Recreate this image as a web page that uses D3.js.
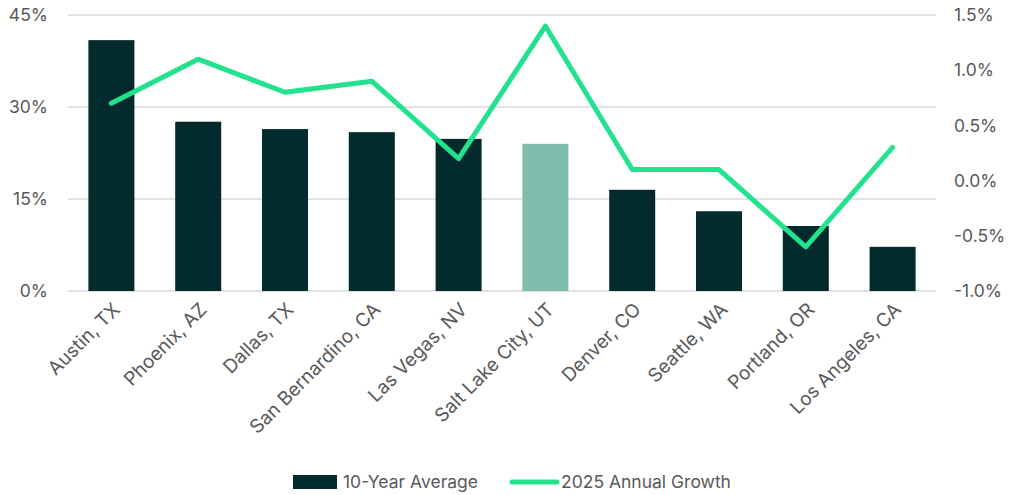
<!DOCTYPE html>
<html>
<head>
<meta charset="utf-8">
<script src="https://cdn.jsdelivr.net/npm/d3@7"></script>
<style>
  body { margin: 0; background: #fff; }
  text { font-family: Inter, "Open Sans", sans-serif; fill: #595959; }
</style>
</head>
<body>
<div id="chart"></div>
<script>
// data
const cities = ["Austin, TX", "Phoenix, AZ", "Dallas, TX", "San Bernardino, CA", "Las Vegas, NV",
  "Salt Lake City, UT", "Denver, CO", "Seattle, WA", "Portland, OR", "Los Angeles, CA"];
const tenYearAvg = [40.9, 27.6, 26.4, 25.9, 24.8, 24.0, 16.5, 13.0, 10.6, 7.2];
const growth2025 = [0.7, 1.1, 0.8, 0.9, 0.2, 1.4, 0.1, 0.1, -0.6, 0.3];
const leftTicks = [0, 15, 30, 45];
const rightTicks = [-1.0, -0.5, 0.0, 0.5, 1.0, 1.5];
const highlight = "Salt Lake City, UT";

let W = 1018, H = 495;
let margin = { top: 15, right: 82, bottom: 204, left: 68 },
  width = W - margin.left - margin.right,
  height = H - margin.top - margin.bottom;

let svg = d3.select("#chart").append("svg")
  .attr("width", W).attr("height", H)
  .append("g")
  .attr("transform", "translate(" + margin.left + "," + margin.top + ")");

let x = d3.scaleBand().domain(cities).range([0, width]).paddingInner(0.47).paddingOuter(0.235);
let yL = d3.scaleLinear().domain([0, 45]).range([height, 0]);
let yR = d3.scaleLinear().domain([-1, 1.5]).range([height, 0]);

// gridlines
svg.append("g").selectAll("line").data(leftTicks).enter().append("line")
  .attr("x1", 0).attr("x2", width)
  .attr("y1", d => yL(d)).attr("y2", d => yL(d))
  .attr("stroke", "#d9d9d9").attr("stroke-width", 1.5);

// left axis
let gl = svg.append("g").call(d3.axisLeft(yL).tickValues(leftTicks).tickFormat(d => d + "%").tickSize(0).tickPadding(20));
gl.select(".domain").remove();
gl.selectAll("text").style("font-size", "17.5px").attr("fill", "#595959");

// right axis
let gr = svg.append("g").attr("transform", "translate(" + width + ",0)")
  .call(d3.axisRight(yR).tickValues(rightTicks).tickFormat(d => d.toFixed(1) + "%").tickSize(0).tickPadding(18));
gr.select(".domain").remove();
gr.selectAll("text").style("font-size", "17.5px").attr("fill", "#595959");

// bars
svg.selectAll(".bar").data(cities).enter().append("rect")
  .attr("class", "bar")
  .attr("x", d => x(d))
  .attr("y", (d, i) => yL(tenYearAvg[i]))
  .attr("width", x.bandwidth())
  .attr("height", (d, i) => height - yL(tenYearAvg[i]))
  .attr("fill", d => d === highlight ? "#80bcae" : "#032a2c");

// line
let line = d3.line()
  .x((d, i) => x(cities[i]) + x.bandwidth() / 2)
  .y(d => yR(d));
svg.append("path").datum(growth2025)
  .attr("d", line)
  .attr("fill", "none")
  .attr("stroke", "#22e28e")
  .attr("stroke-width", 5)
  .attr("stroke-linecap", "round")
  .attr("stroke-linejoin", "round");

// x axis labels
let gx = svg.append("g").attr("transform", "translate(0," + height + ")")
  .call(d3.axisBottom(x).tickSize(0).tickPadding(10));
gx.select(".domain").remove();
gx.selectAll("text")
  .style("font-size", "19px")
  .attr("fill", "#595959")
  .attr("text-anchor", "end")
  .attr("dy", "0.35em")
  .attr("transform", "translate(-2,8) rotate(-45)");

// legend
let lg = d3.select("svg").append("g").attr("transform", "translate(293,481)");
lg.append("rect").attr("x", 0).attr("y", -6).attr("width", 44).attr("height", 14).attr("fill", "#032a2c");
lg.append("text").attr("x", 50).attr("y", 1).attr("dy", "0.35em").style("font-size", "17.5px").text("10-Year Average");
lg.append("line").attr("x1", 219).attr("x2", 264).attr("y1", 1).attr("y2", 1)
  .attr("stroke", "#22e28e").attr("stroke-width", 5).attr("stroke-linecap", "round");
lg.append("text").attr("x", 268).attr("y", 1).attr("dy", "0.35em").style("font-size", "17.5px").text("2025 Annual Growth");
</script>
</body>
</html>
